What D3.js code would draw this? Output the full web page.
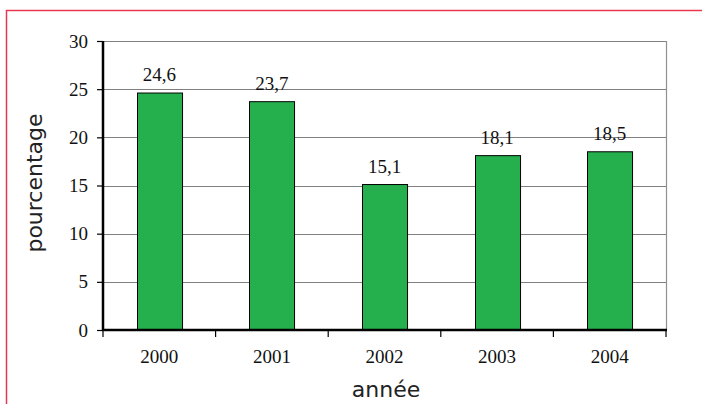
<!DOCTYPE html>
<html>
<head>
<meta charset="utf-8">
<script src="https://cdn.jsdelivr.net/npm/d3@7"></script>
<style>
  body { margin:0; background:#fff; }
  svg { display:block; }
</style>
</head>
<body>
<svg id="chart" width="702" height="404"></svg>
<script>
// donnees
var annees = ["2000", "2001", "2002", "2003", "2004"];
var valeurs = [24.6, 23.7, 15.1, 18.1, 18.5];
var ticksY = [0, 5, 10, 15, 20, 25, 30];

var svg = d3.select("#chart");
var marge = {left:103, right:666, top:41, bottom:330};

// cadre rouge
svg.append("path")
    .attr("d", "M6.5,404 L6.5,10.5 L702,10.5")
    .attr("fill", "none")
    .attr("stroke", "#e8384f")
    .attr("stroke-width", 1.5);

var x = d3.scaleBand().domain(annees).range([marge.left, marge.right]).paddingInner(0.6).paddingOuter(0.3);
var xBord = d3.scaleLinear().domain([0, annees.length]).range([marge.left, marge.right]);
var y = d3.scaleLinear().domain([0, 30]).range([marge.bottom, marge.top]);

// quadrillage
svg.append("g").selectAll("line").data(ticksY.filter(function(d){ return d > 0; }))
    .enter().append("line")
    .attr("x1", marge.left).attr("x2", marge.right)
    .attr("y1", function(d){ return Math.round(y(d)) + 0.5; })
    .attr("y2", function(d){ return Math.round(y(d)) + 0.5; })
    .attr("stroke", "#808080").attr("stroke-width", 1.2);

svg.append("line")
    .attr("x1", marge.right + 0.5).attr("x2", marge.right + 0.5)
    .attr("y1", marge.top).attr("y2", marge.bottom)
    .attr("stroke", "#909090").attr("stroke-width", 1.2);

// barres
svg.append("g").selectAll("rect").data(valeurs)
    .enter().append("rect")
    .attr("x", function(d, i){ return Math.round(x(annees[i])) + 0.5; })
    .attr("width", x.bandwidth())
    .attr("y", function(d){ return y(d); })
    .attr("height", function(d){ return y(0) - y(d); })
    .attr("fill", "#25b04d")
    .attr("stroke", "#000")
    .attr("stroke-width", 1);

// etiquettes de valeurs
svg.append("g").selectAll("text").data(valeurs)
    .enter().append("text")
    .attr("x", function(d, i){ return x(annees[i]) + x.bandwidth() / 2; })
    .attr("y", function(d){ return y(d) - 12; })
    .attr("text-anchor", "middle")
    .style("font-family", "Liberation Serif")
    .style("font-size", "19px")
    .style("fill", "#111")
    .text(function(d){ return String(d).replace(".", ","); });

// axe Y
var axeY = d3.axisLeft(y).tickValues(ticksY).tickSize(6).tickPadding(9);
var gY = svg.append("g").attr("transform", "translate(" + marge.left + ",0)").call(axeY);
gY.select(".domain").attr("stroke", "#000").attr("stroke-width", 2.5).attr("d", "M0," + (marge.top) + "V" + marge.bottom);
gY.selectAll(".tick line").attr("stroke", "#000").attr("stroke-width", 1.2);
gY.selectAll("text")
    .style("font-family", "Liberation Serif")
    .style("font-size", "19px")
    .style("fill", "#111");

// axe X
var gX = svg.append("g");
gX.selectAll("line").data(d3.range(annees.length + 1))
    .enter().append("line")
    .attr("x1", function(d){ return xBord(d); })
    .attr("x2", function(d){ return xBord(d); })
    .attr("y1", marge.bottom).attr("y2", marge.bottom + 7)
    .attr("stroke", "#000").attr("stroke-width", 1.2);
gX.append("line")
    .attr("x1", marge.left - 1).attr("x2", marge.right + 1)
    .attr("y1", marge.bottom).attr("y2", marge.bottom)
    .attr("stroke", "#000").attr("stroke-width", 2.5);
gX.selectAll("text").data(annees)
    .enter().append("text")
    .attr("x", function(d){ return x(d) + x.bandwidth() / 2; })
    .attr("y", 363)
    .attr("text-anchor", "middle")
    .style("font-family", "Liberation Serif")
    .style("font-size", "19px")
    .style("fill", "#111")
    .text(function(d){ return d; });

// titres des axes
svg.append("text")
    .attr("transform", "translate(42,183) rotate(-90)")
    .attr("text-anchor", "middle")
    .style("font-family", "DejaVu Sans")
    .style("font-size", "22px")
    .style("fill", "#222")
    .text("pourcentage");

svg.append("text")
    .attr("x", 386).attr("y", 397)
    .attr("text-anchor", "middle")
    .style("font-family", "DejaVu Sans")
    .style("font-size", "22px")
    .style("fill", "#222")
    .text("année");
</script>
</body>
</html>
